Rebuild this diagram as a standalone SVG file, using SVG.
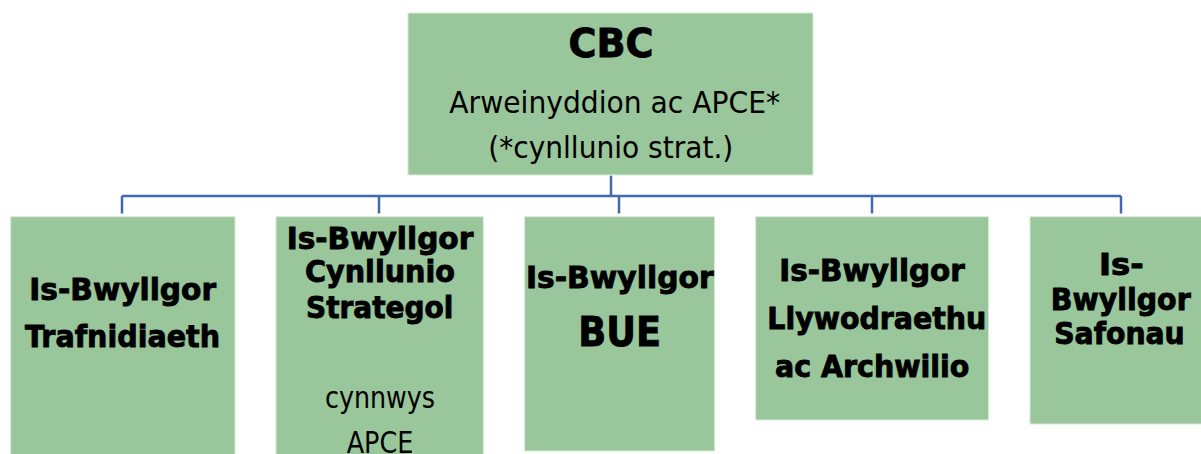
<svg xmlns="http://www.w3.org/2000/svg" width="1201" height="454" viewBox="0 0 1201 454">
<style>
.box{fill:#99c69b;stroke:#d9ead9;stroke-width:1}
.b{font-family:"DejaVu Sans","Verdana",sans-serif;font-weight:bold;fill:#000;stroke:#000;stroke-width:0.9;text-anchor:middle}
.n{font-family:"DejaVu Sans","Verdana",sans-serif;font-weight:normal;fill:#000;text-anchor:middle}
.conn{fill:none;stroke:#4169b0;stroke-width:2.5}
</style>
<rect width="1201" height="454" fill="#fff"/>
<g id="connectors">
<path class="conn" d="M611,175.5 V196"/>
<path class="conn" d="M122,196 H1121"/>
<path class="conn" d="M122,196 V213.5"/>
<path class="conn" d="M379,196 V213.5"/>
<path class="conn" d="M619,196 V213.5"/>
<path class="conn" d="M872,196 V213.5"/>
<path class="conn" d="M1121,196 V213.5"/>
</g>
<g id="cbc">
<rect class="box" x="408" y="13" width="405" height="162"/>
<text class="b" x="611" y="56.7" font-size="39" textLength="85" lengthAdjust="spacingAndGlyphs">CBC</text>
<text class="n" x="614.7" y="112.7" font-size="31" textLength="330.7" lengthAdjust="spacingAndGlyphs">Arweinyddion ac APCE*</text>
<text class="n" x="610.8" y="157.5" font-size="31" textLength="245" lengthAdjust="spacingAndGlyphs">(*cynllunio strat.)</text>
</g>
<g id="trafnidiaeth">
<rect class="box" x="10.7" y="216.7" width="224.3" height="245"/>
<text class="b" x="122.7" y="300" font-size="31" textLength="186.7" lengthAdjust="spacingAndGlyphs">Is-Bwyllgor</text>
<text class="b" x="122.5" y="346.7" font-size="31" textLength="195" lengthAdjust="spacingAndGlyphs">Trafnidiaeth</text>
</g>
<g id="cynllunio">
<rect class="box" x="276" y="216.7" width="207.3" height="245"/>
<text class="b" x="380" y="249" font-size="31" textLength="186.7" lengthAdjust="spacingAndGlyphs">Is-Bwyllgor</text>
<text class="b" x="380" y="282.3" font-size="31" textLength="150" lengthAdjust="spacingAndGlyphs">Cynllunio</text>
<text class="b" x="379.7" y="317.7" font-size="31" textLength="147.3" lengthAdjust="spacingAndGlyphs">Strategol</text>
<text class="n" x="380" y="408.3" font-size="30" textLength="110" lengthAdjust="spacingAndGlyphs">cynnwys</text>
<text class="n" x="380" y="452.5" font-size="30" textLength="66.7" lengthAdjust="spacingAndGlyphs">APCE</text>
</g>
<g id="bue">
<rect class="box" x="524.6" y="216.7" width="190" height="234.3"/>
<text class="b" x="619.8" y="288.3" font-size="31" textLength="187.7" lengthAdjust="spacingAndGlyphs">Is-Bwyllgor</text>
<text class="b" x="619.6" y="345.7" font-size="41" textLength="82.7" lengthAdjust="spacingAndGlyphs">BUE</text>
</g>
<g id="llywodraethu">
<rect class="box" x="755.7" y="216.7" width="232.9" height="203.3"/>
<text class="b" x="872.1" y="280.7" font-size="30" textLength="185.5" lengthAdjust="spacingAndGlyphs">Is-Bwyllgor</text>
<text class="b" x="876.8" y="329" font-size="30" textLength="219" lengthAdjust="spacingAndGlyphs">Llywodraethu</text>
<text class="b" x="872.2" y="376.7" font-size="30" textLength="194.4" lengthAdjust="spacingAndGlyphs">ac Archwilio</text>
</g>
<g id="safonau">
<rect class="box" x="1030" y="216.7" width="175" height="207.3"/>
<text class="b" x="1121.3" y="275" font-size="30" textLength="44.7" lengthAdjust="spacingAndGlyphs">Is-</text>
<text class="b" x="1120.7" y="310" font-size="30" textLength="140" lengthAdjust="spacingAndGlyphs">Bwyllgor</text>
<text class="b" x="1119.5" y="344.3" font-size="30" textLength="130.5" lengthAdjust="spacingAndGlyphs">Safonau</text>
</g>
</svg>
